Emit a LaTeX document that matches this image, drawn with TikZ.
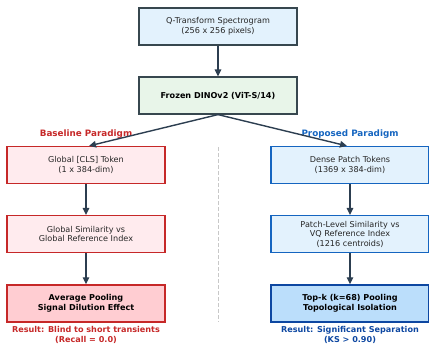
\documentclass[tikz,border=0pt]{standalone}
\usepackage{fontspec}
\setmainfont{DejaVu Sans}
\usetikzlibrary{arrows.meta}
\definecolor{arrowc}{HTML}{2C3E50}
\definecolor{slate}{HTML}{37474F}
\definecolor{topfill}{HTML}{E3F2FD}
\definecolor{dinofill}{HTML}{E8F5E9}
\definecolor{redline}{HTML}{C62828}
\definecolor{redfill}{HTML}{FFEBEE}
\definecolor{redfillb}{HTML}{FFCDD2}
\definecolor{blueline}{HTML}{1565C0}
\definecolor{bluefill}{HTML}{E3F2FD}
\definecolor{bluefillb}{HTML}{BBDEFB}
\definecolor{bluedark}{HTML}{0D47A1}
\definecolor{dashc}{HTML}{C8C8C8}
\tikzset{
  box/.style={draw, line width=1.2bp, minimum width=158bp, minimum height=37bp, inner sep=0pt,
    align=center, font=\fontsize{8.1bp}{9.5bp}\selectfont, text=black!85},
  topbox/.style={box, draw=slate, fill=topfill},
  dinobox/.style={box, draw=slate, fill=dinofill, font=\fontsize{8.1bp}{9.5bp}\selectfont\bfseries, text=black},
  leftbox/.style={box, draw=redline, fill=redfill},
  leftres/.style={box, draw=redline, fill=redfillb, line width=1.5bp, font=\fontsize{8.1bp}{9.5bp}\selectfont\bfseries, text=black},
  rightbox/.style={box, draw=blueline, fill=bluefill},
  rightres/.style={box, draw=bluedark, fill=bluefillb, line width=1.5bp, font=\fontsize{8.1bp}{9.5bp}\selectfont\bfseries, text=black},
  flow/.style={draw=arrowc, line width=1.4bp, -{Triangle[length=7bp,width=6.5bp]}},
  paradigm/.style={font=\fontsize{8.8bp}{10bp}\selectfont\bfseries, inner sep=0pt},
  result/.style={font=\fontsize{8.1bp}{9.2bp}\selectfont\bfseries, align=center, inner sep=0pt, anchor=north}
}
\begin{document}
\begin{tikzpicture}[x=1bp,y=-1bp]
\useasboundingbox (0,0) rectangle (429,345);
\clip (0,0) rectangle (429,345);
\node[topbox] (spec) at (218,26.5) {Q-Transform Spectrogram\\(256 x 256 pixels)};
\node[dinobox] (dino) at (218,95.5) {Frozen DINOv2 (ViT-S/14)};

\node[paradigm, text=redline] (lbl) at (86,134) {Baseline Paradigm};
\node[paradigm, text=blueline] (rbl) at (350,134) {Proposed Paradigm};

\node[leftbox] (cls) at (86,165) {Global [CLS] Token\\(1 x 384-dim)};
\node[leftbox] (gsim) at (86,234) {Global Similarity vs\\Global Reference Index};
\node[leftres] (avg) at (86,303.5) {Average Pooling\\Signal Dilution Effect};

\node[rightbox] (patch) at (350,165) {Dense Patch Tokens\\(1369 x 384-dim)};
\node[rightbox] (psim) at (350,234) {Patch-Level Similarity vs\\VQ Reference Index\\(1216 centroids)};
\node[rightres] (topk) at (350,303.5) {Top-k (k=68) Pooling\\Topological Isolation};

\coordinate (dtop) at (218,147);
\coordinate (dbot) at (218,322);
\draw[dashc, line width=1bp, dash pattern=on 3.5bp off 2.5bp] (dtop) -- (dbot);

\draw[flow] (spec) -- (dino);
\draw[flow] (dino.south) -- ([xshift=3bp]cls.north);
\draw[flow] (dino.south) -- ([xshift=-3bp]patch.north);
\draw[flow] (cls) -- (gsim);
\draw[flow] (gsim) -- (avg);
\draw[flow] (patch) -- (psim);
\draw[flow] (psim) -- (topk);

\node[result, text=redline] (lres) at (86,326.5) {Result: Blind to short transients\\(Recall = 0.0)};
\node[result, text=bluedark] (rres) at (350,326.5) {Result: Significant Separation\\(KS > 0.90)};
\end{tikzpicture}
\end{document}
